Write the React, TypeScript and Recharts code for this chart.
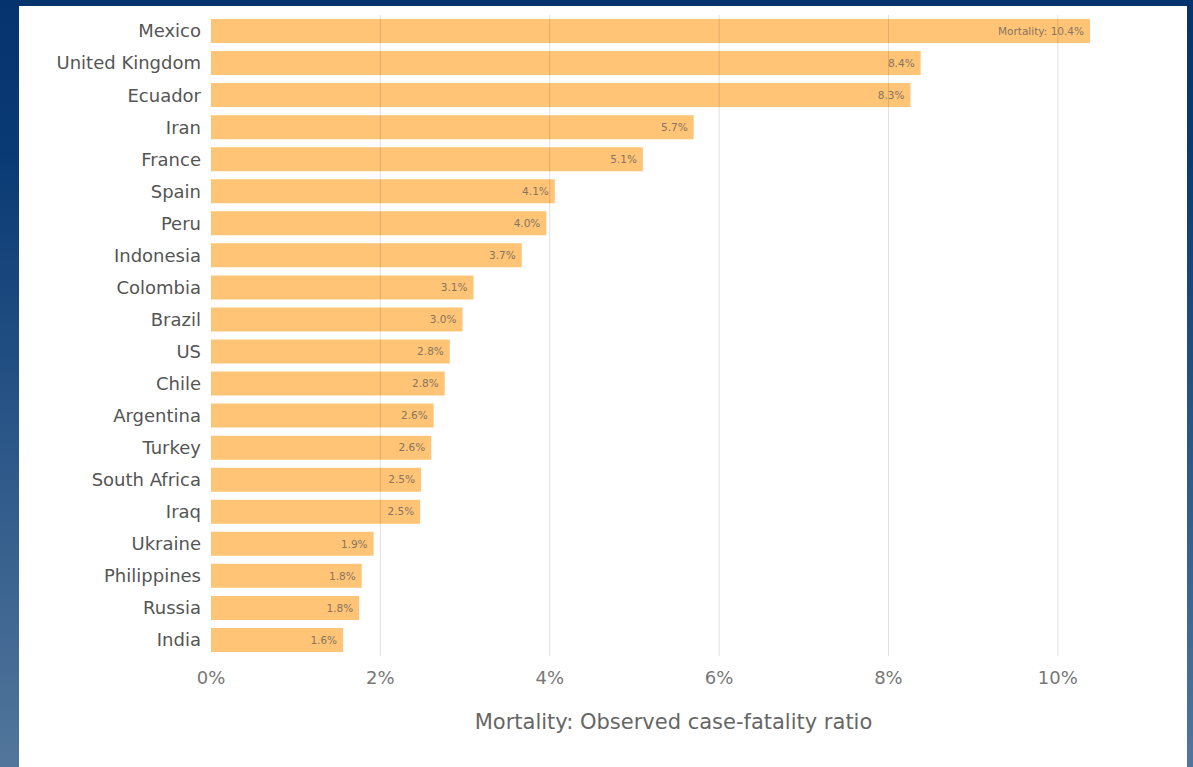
import { BarChart, Bar, XAxis, YAxis, LabelList, ReferenceLine, Label } from 'recharts'

const countries = [
  'Mexico', 'United Kingdom', 'Ecuador', 'Iran', 'France', 'Spain', 'Peru', 'Indonesia',
  'Colombia', 'Brazil', 'US', 'Chile', 'Argentina', 'Turkey', 'South Africa', 'Iraq',
  'Ukraine', 'Philippines', 'Russia', 'India',
]

// observed case-fatality ratio, percent
const mortality = [
  10.38, 8.38, 8.26, 5.7, 5.1, 4.06, 3.96, 3.67,
  3.1, 2.97, 2.82, 2.76, 2.63, 2.6, 2.48, 2.47,
  1.92, 1.78, 1.75, 1.56,
]

const xTicks = [0, 2, 4, 6, 8, 10]

const data = countries.map((country, i) => ({
  country,
  value: mortality[i],
  label: i === 0 ? `Mortality: ${mortality[i].toFixed(1)}%` : `${mortality[i].toFixed(1)}%`,
}))

const FONT = '"DejaVu Sans", Tahoma, sans-serif'

export default function App() {
  return (
    <div
      style={{
        position: 'absolute',
        left: 0,
        top: 0,
        width: 1193,
        height: 767,
        overflow: 'hidden',
        background: 'linear-gradient(to bottom, #05336d 0%, #0a3a74 20%, #2d5889 60%, #52769b 100%)',
        fontFamily: FONT,
      }}
    >
      <div style={{ position: 'absolute', left: 19, top: 6, width: 1168, height: 761, background: '#fff' }}>
        <BarChart
          width={1168}
          height={761}
          data={data}
          layout="vertical"
          barCategoryGap={4}
          margin={{ top: 9, right: 97, bottom: 11, left: 0 }}
        >
          <XAxis
            type="number"
            domain={[0, 'dataMax']}
            ticks={xTicks}
            tickFormatter={(v) => `${v}%`}
            axisLine={false}
            tickLine={false}
            tickSize={0}
            tickMargin={15}
            height={100}
            tick={{ fill: '#777', fontSize: 18, fontFamily: FONT }}
          >
            <Label
              content={({ viewBox }: any) => (
                <text
                  x={viewBox.x + viewBox.width / 2 + 23}
                  y={viewBox.y + 73}
                  textAnchor="middle"
                  fill="#666"
                  fontSize={21}
                  fontFamily={FONT}
                >
                  Mortality: Observed case-fatality ratio
                </text>
              )}
            />
          </XAxis>
          <YAxis
            type="category"
            dataKey="country"
            width={192}
            axisLine={false}
            tickLine={false}
            tickSize={0}
            tickMargin={10}
            interval={0}
            tick={{ fill: '#555', fontSize: 18, fontFamily: FONT }}
          />
          <Bar dataKey="value" fill="#ffc476" isAnimationActive={false}>
            <LabelList
              dataKey="label"
              position="insideRight"
              offset={6}
              fill="#857560"
              fontSize={10.5}
              fontFamily={FONT}
            />
          </Bar>
          {xTicks.slice(1).map((t) => (
            <ReferenceLine key={t} x={t} stroke="#000" strokeOpacity={0.12} />
          ))}
        </BarChart>
      </div>
    </div>
  )
}
